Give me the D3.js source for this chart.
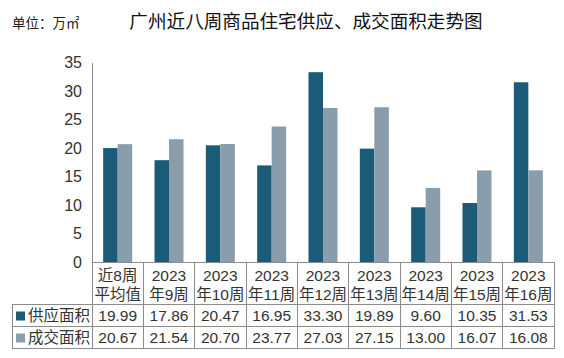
<!DOCTYPE html>
<html><head><meta charset="utf-8">
<script src="https://cdn.jsdelivr.net/npm/d3@7"></script>
<style>body{margin:0;background:#fff}svg{display:block}</style>
</head><body>
<svg id="c" width="564" height="358"></svg>
<script>
const categories = [["近8周","平均值"],["2023","年9周"],["2023","年10周"],["2023","年11周"],["2023","年12周"],["2023","年13周"],["2023","年14周"],["2023","年15周"],["2023","年16周"]];
const supply = [19.99,17.86,20.47,16.95,33.30,19.89,9.60,10.35,31.53];
const deal = [20.67,21.54,20.70,23.77,27.03,27.15,13.00,16.07,16.08];
const seriesNames = ["供应面积","成交面积"];
const yTicks = [0,5,10,15,20,25,30,35];
const colors = ["#1b5b77","#8a9dab"];
const font = "'Liberation Sans','Noto Sans CJK SC',sans-serif";

const svg = d3.select("#c");
const L = 92, R = 554, T = 62.5, B = 262;
const x = d3.scaleBand().domain(d3.range(categories.length)).range([L,R]);
const y = d3.scaleLinear().domain([0,35]).range([B,T]);
const inner = d3.scaleBand().domain([0,1]).range([0,29]);
const lineC = "#8c8c8c";
const txtC = "#333";

svg.append("text").attr("x",12).attr("y",28).attr("font-family",font).attr("font-size",13.5).attr("fill","#222").text("单位：万㎡");
svg.append("text").attr("x",306).attr("y",28).attr("text-anchor","middle").attr("font-family",font).attr("font-size",18.6).attr("fill","#111").text("广州近八周商品住宅供应、成交面积走势图");

// y axis labels
svg.selectAll(".yt").data(yTicks).join("text").attr("x",82).attr("y",d=>y(d)+5.5)
  .attr("text-anchor","end").attr("font-family",font).attr("font-size",16).attr("fill",txtC).text(d=>d);

// bars
const data = [supply, deal];
data.forEach((arr,si)=>{
  svg.selectAll(".b"+si).data(arr).join("rect")
    .attr("x",(d,i)=>x(i)+x.bandwidth()/2-14.5+inner(si))
    .attr("width",inner.bandwidth())
    .attr("y",d=>y(d)).attr("height",d=>B-y(d)).attr("fill",colors[si]);
});

// table lines
const g = svg.append("g").attr("stroke",lineC).attr("stroke-width",1).attr("shape-rendering","crispEdges");
const r1 = 304.5, r2 = 326.5, r3 = 348.5;
g.append("line").attr("x1",L).attr("x2",R).attr("y1",B).attr("y2",B);
g.append("line").attr("x1",L).attr("x2",L).attr("y1",T).attr("y2",r3);
[r1,r2,r3].forEach(yy=>g.append("line").attr("x1",12).attr("x2",R).attr("y1",yy).attr("y2",yy));
g.append("line").attr("x1",12).attr("x2",12).attr("y1",r1).attr("y2",r3);
d3.range(1,categories.length+1).forEach(i=>{
  const xx = x(i-1)+x.bandwidth();
  g.append("line").attr("x1",xx).attr("x2",xx).attr("y1",B).attr("y2",r3);
});

// category labels
categories.forEach((c,i)=>{
  const cx = x(i)+x.bandwidth()/2;
  svg.append("text").attr("x",cx).attr("y",281).attr("text-anchor","middle").attr("font-family",font).attr("font-size",15.5).attr("fill",txtC).text(c[0]);
  svg.append("text").attr("x",cx).attr("y",300).attr("text-anchor","middle").attr("font-family",font).attr("font-size",15.5).attr("fill",txtC).text(c[1]);
});
// values
[[supply,r1],[deal,r2]].forEach(([arr,top],si)=>{
  arr.forEach((v,i)=>{
    svg.append("text").attr("x",x(i)+x.bandwidth()/2).attr("y",top+16.5).attr("text-anchor","middle")
      .attr("font-family",font).attr("font-size",15.5).attr("fill",txtC).text(v.toFixed(2));
  });
  svg.append("rect").attr("x",16).attr("y",top+7).attr("width",9).attr("height",9).attr("fill",colors[si]);
  svg.append("text").attr("x",28).attr("y",top+16.5).attr("font-family",font).attr("font-size",15.5).attr("fill",txtC).text(seriesNames[si]);
});
</script>
</body></html>
